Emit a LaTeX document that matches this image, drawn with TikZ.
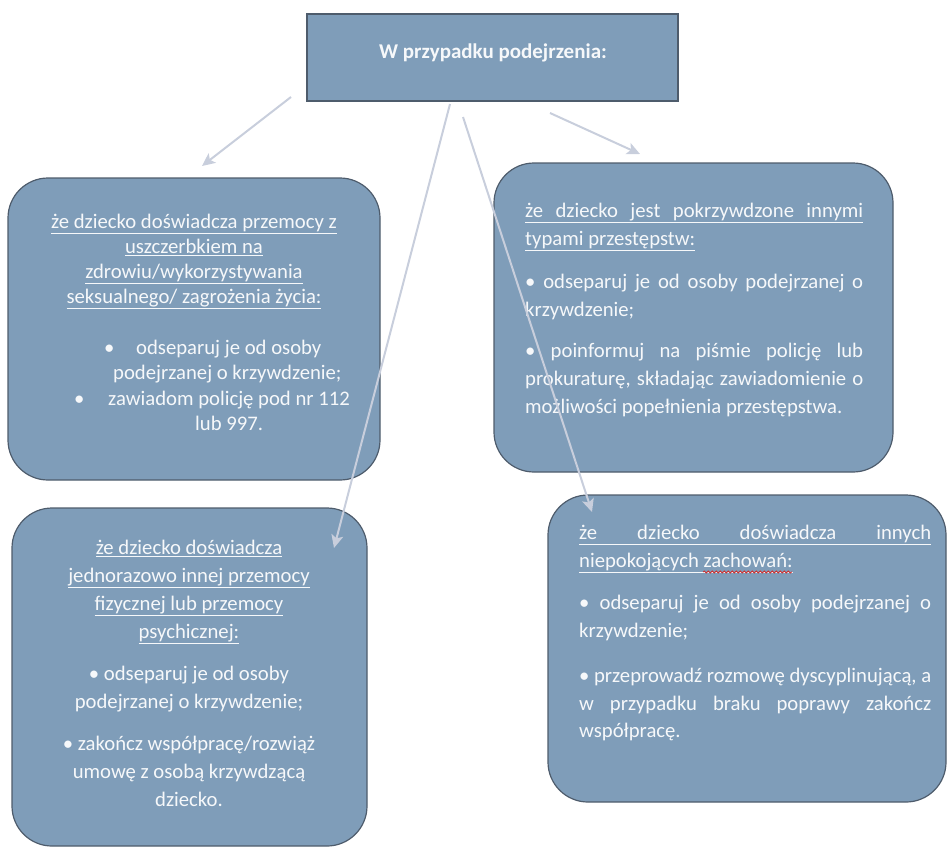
\documentclass[tikz,border=0pt]{standalone}
\usepackage{fontspec}
\setmainfont{Carlito}
\usetikzlibrary{arrows.meta,decorations.pathmorphing}

\definecolor{boxfill}{RGB}{127,157,185}
\definecolor{boxline}{RGB}{78,92,108}
\definecolor{arrowgray}{RGB}{200,206,220}
\definecolor{txtwhite}{RGB}{246,248,250}
\definecolor{spellred}{RGB}{205,45,45}

\tikzset{
  casebox/.style={draw=boxline, line width=1.2pt, fill=boxfill, rounded corners=40pt, inner sep=0pt},
  headbox/.style={draw=boxline, line width=1.2pt, fill=boxfill, inner sep=0pt},
  casetext/.style={text=txtwhite, inner sep=0pt},
  link/.style={draw=arrowgray, line width=2pt, -{Stealth[length=13pt,width=12pt,inset=3pt]}},
}

\begin{document}
\begin{tikzpicture}[x=1pt,y=-1pt]
    \useasboundingbox (0,0) rectangle (947,847);

    % boxes
    \node[headbox, minimum width=371pt, minimum height=87pt] (top) at (492.5,57.5) {};
    \node[casebox, minimum width=372pt, minimum height=302pt] (lt) at (194,329) {};
    \node[casebox, minimum width=399pt, minimum height=309pt] (rt) at (693.5,317.5) {};
    \node[casebox, minimum width=355pt, minimum height=338pt] (lb) at (189.5,677) {};
    \node[casebox, minimum width=398pt, minimum height=307pt] (rb) at (747,648.5) {};

    % top
    \node[casetext, font=\fontsize{21}{25}\selectfont\bfseries] (toptxt) at (493,53) {W przypadku podejrzenia:};

    % left top
    \node[casetext, anchor=north, align=center, font=\fontsize{20.7}{25}\selectfont] (lthead) at (194,214)
        {\underline{że dziecko doświadcza przemocy z}\\
         \underline{uszczerbkiem na}\\
         \underline{zdrowiu/wykorzystywania}\\
         \underline{seksualnego/ zagrożenia życia:}};
    \node[casetext, anchor=north west, align=left, font=\fontsize{20.7}{25.3}\selectfont] (ltlist) at (74,340)
        {\makebox[290pt][l]{\hspace*{30pt}\makebox[32pt][l]{\textbullet}odseparuj je od osoby}\\
         \makebox[290pt][l]{\hspace*{39pt}podejrzanej o krzywdzenie;}\\
         \makebox[290pt][l]{\makebox[34pt][l]{\textbullet}zawiadom policję pod nr 112}\\
         \makebox[290pt][l]{\hspace*{121pt}lub 997.}};

    % right top
    \node[casetext, anchor=north west, align=left, font=\fontsize{20.7}{28}\selectfont] (rttxt) at (525,203)
        {\underline{\makebox[338pt][s]{że dziecko jest pokrzywdzone innymi}}\\
         \underline{typami przestępstw:}\\[15pt]
         \makebox[338pt][s]{\textbullet{} odseparuj je od osoby podejrzanej o}\\
         krzywdzenie;\\[13pt]
         \makebox[338pt][s]{\textbullet{} poinformuj na piśmie policję lub}\\
         \makebox[338pt][s]{prokuraturę, składając zawiadomienie o}\\
         możliwości popełnienia przestępstwa.};

    % left bottom
    \node[casetext, anchor=north, align=center, font=\fontsize{20.7}{28}\selectfont] (lbtxt) at (189,540)
        {\underline{że dziecko doświadcza}\\
         \underline{jednorazowo innej przemocy}\\
         \underline{fizycznej lub przemocy}\\
         \underline{psychicznej:}\\[14pt]
         \textbullet{} odseparuj je od osoby\\
         podejrzanej o krzywdzenie;\\[14pt]
         \textbullet{} zakończ współpracę/rozwiąż\\
         umowę z osobą krzywdzącą\\
         dziecko.};

    % right bottom
    \node[casetext, anchor=north west, align=left, font=\fontsize{20.7}{27.5}\selectfont] (rbtxt) at (579,525)
        {\underline{\makebox[352pt][s]{że dziecko doświadcza innych}}\\
         \underline{niepokojących zachowań:}\\[15pt]
         \makebox[352pt][s]{\textbullet{} odseparuj je od osoby podejrzanej o}\\
         krzywdzenie;\\[18pt]
         \makebox[352pt][s]{\textbullet{} przeprowadź rozmowę dyscyplinującą, a}\\
         \makebox[352pt][s]{w przypadku braku poprawy zakończ}\\
         współpracę.};
    \draw[spellred, line width=0.8pt, decorate, decoration={snake, amplitude=1pt, segment length=4pt}] (703,572) -- (792,572);

    % arrows
    \coordinate (a1s) at (291,97);
    \coordinate (a1e) at (202,166);
    \coordinate (a2s) at (550,113);
    \coordinate (a2e) at (640,154);
    \coordinate (a3s) at (450,104);
    \coordinate (a3e) at (334,548);
    \coordinate (a4s) at (463,117);
    \coordinate (a4e) at (592,512);
    \draw[link] (a1s) -- (a1e);
    \draw[link] (a2s) -- (a2e);
    \draw[link] (a3s) -- (a3e);
    \draw[link] (a4s) -- (a4e);
\end{tikzpicture}
\end{document}
